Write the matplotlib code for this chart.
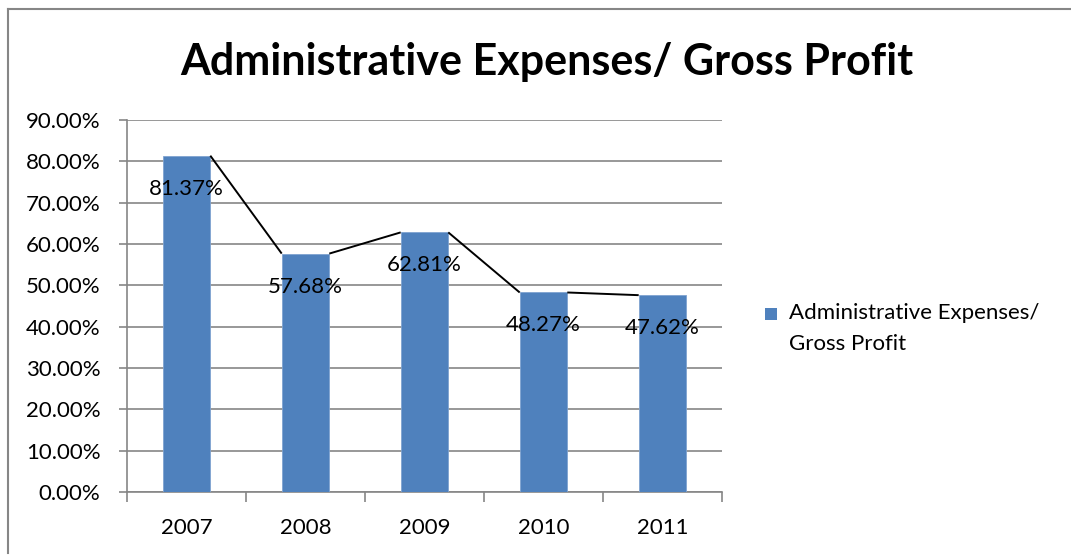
import matplotlib
matplotlib.use("Agg")
import matplotlib.pyplot as plt
from matplotlib.patches import Rectangle
from matplotlib.lines import Line2D
import numpy as np

years = ["2007", "2008", "2009", "2010", "2011"]
values = [81.37, 57.68, 62.81, 48.27, 47.62]
labels = ["81.37%", "57.68%", "62.81%", "48.27%", "47.62%"]
yticks = [0, 10, 20, 30, 40, 50, 60, 70, 80, 90]
title = "Administrative Expenses/ Gross Profit"

plt.rcParams['font.family'] = ['Lato', 'DejaVu Sans']
W, H = 1071, 555
FS = 16
fig = plt.figure(figsize=(W / 100, H / 100), dpi=100)
fig.patch.set_facecolor("white")

# outer chart border (left and top visible)
fig.add_artist(Line2D([8 / W, 8 / W], [2 / H, 1 - 9 / H], transform=fig.transFigure,
                      color="#868686", linewidth=1.5))
fig.add_artist(Line2D([8 / W, 1.0], [1 - 9 / H, 1 - 9 / H], transform=fig.transFigure,
                      color="#868686", linewidth=1.5))

ax = fig.add_axes([127 / W, 1 - 492 / H, (722 - 127) / W, (492 - 120) / H])
x = np.arange(len(years))
bw = 0.4
bar_color = "#4F81BD"
ax.bar(x, values, width=bw, color=bar_color, edgecolor="#7FA3D0", linewidth=0.6, zorder=3)

# series lines: top-right of one bar to top-left of next
for i in range(len(values) - 1):
    ax.plot([x[i] + bw / 2, x[i + 1] - bw / 2], [values[i], values[i + 1]],
            color="black", linewidth=1.4, zorder=4, solid_capstyle="butt")

for xi, v, lab in zip(x, values, labels):
    ax.annotate(lab, (xi, v), xytext=(0, -33 * 72 / 100), textcoords="offset points",
                ha="center", va="center", fontsize=FS, color="black", zorder=5)

ax.set_xlim(-0.5, len(years) - 0.5)
ax.set_ylim(0, 90)
ax.set_yticks(yticks)
ax.set_yticklabels([f"{t:.2f}%" for t in yticks], fontsize=FS)
ax.set_xticks(x)
ax.set_xticklabels(years, fontsize=FS)
ax.tick_params(axis="x", length=0, pad=19)
ax.tick_params(axis="y", length=6, color="#868686", width=1.2, pad=13)
ax.set_xticks(np.arange(-0.5, len(years)), minor=True)
ax.tick_params(axis="x", which="minor", length=7, color="#868686", width=1.2, direction="out")

ax.grid(axis="y", color="#868686", linewidth=1.2, zorder=0)
ax.set_axisbelow(True)
for s in ["top", "right"]:
    ax.spines[s].set_visible(False)
for s in ["left", "bottom"]:
    ax.spines[s].set_color("#868686")
    ax.spines[s].set_linewidth(1.2)

fig.text(0.5 * (175 + 918) / W, 1 - 62 / H, title, ha="center", va="center",
         fontsize=31, fontweight="bold")

# legend
fig.add_artist(Rectangle((765 / W, 1 - 320 / H), 12 / W, 12 / H, transform=fig.transFigure,
                         facecolor=bar_color, edgecolor="none"))
fig.text(789 / W, 1 - 313 / H, "Administrative Expenses/", ha="left", va="center", fontsize=FS)
fig.text(789 / W, 1 - 344 / H, "Gross Profit", ha="left", va="center", fontsize=FS)

fig.savefig("out.png", dpi=100)
